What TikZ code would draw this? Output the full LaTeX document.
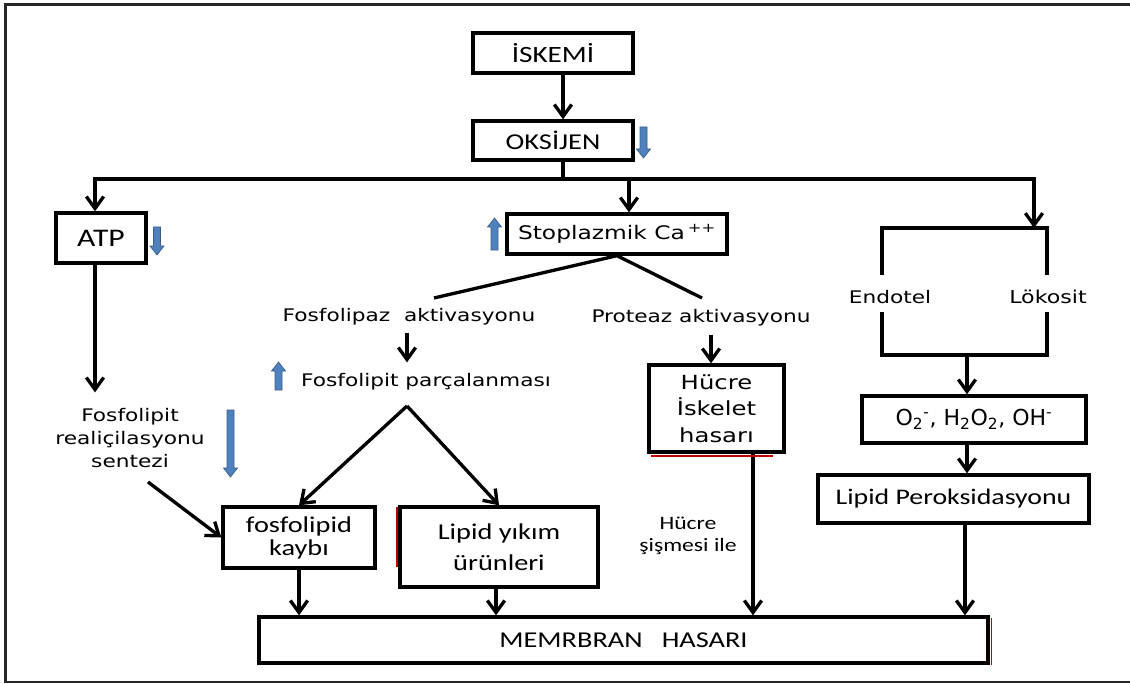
\documentclass[tikz,border=0pt]{standalone}
\usepackage{fontspec}
\setmainfont{Carlito}[FakeStretch=1.25]
\newfontfamily\dv{DejaVu Sans}[FakeStretch=1.25]
\newfontfamily\dvn{DejaVu Sans}
\usetikzlibrary{arrows.meta,calc}
\definecolor{blockblue}{HTML}{4F81BD}
\definecolor{blockedge}{HTML}{385D8A}
\definecolor{markred}{HTML}{C00000}

\newcommand\fsz[2]{\fontsize{#1}{#2}\selectfont}
% blue block arrows: x, y of tail, y of tip
\newcommand\blockdown[3]{%
  \path[fill=blockblue, draw=blockedge, line width=0.5pt]
    (#1-3.5,#2) -- (#1+3.5,#2) -- (#1+3.5,#3-9) -- (#1+7,#3-9) -- (#1,#3)
    -- (#1-7,#3-9) -- (#1-3.5,#3-9) -- cycle;}
\newcommand\blockup[3]{%
  \path[fill=blockblue, draw=blockedge, line width=0.5pt]
    (#1-3.5,#2) -- (#1+3.5,#2) -- (#1+3.5,#3+9) -- (#1+7,#3+9) -- (#1,#3)
    -- (#1-7,#3+9) -- (#1-3.5,#3+9) -- cycle;}

\tikzset{
  box/.style={draw, line width=2.5pt, inner sep=0pt, align=center},
  lbl/.style={inner sep=0pt, align=center},
  ln/.style={line width=2.5pt},
  arr/.style={line width=2.5pt, -{Straight Barb[length=9pt,width=13pt]}},
  redmark/.style={draw=markred, line width=1.3pt},
}

\begin{document}
\begin{tikzpicture}[x=0.75pt,y=-0.75pt]
\useasboundingbox (0,0) rectangle (1130,684);
% outer frame
\draw[line width=2pt, black!85] (1130,4.5) -- (5.5,4.5) -- (5.5,682) -- (1130,682);

% top chain
\node[box, minimum width=120pt, minimum height=30pt, font=\fsz{17.5}{20}] (iskemi) at (553,53) {İSKEMİ};
\node[box, minimum width=120pt, minimum height=29.25pt, font=\fsz{17}{20}] (oksijen) at (553,140.5) {OKSİJEN};
\blockdown{643.5}{127}{158}

\coordinate (stem) at (563,179);
\coordinate (busL) at (95,179);
\coordinate (busM) at (629,179);
\coordinate (busR) at (1034,179);
\draw[arr] (iskemi.south -| stem) -- (oksijen.north -| stem);
\draw[ln] (oksijen.south -| stem) -- (stem);

% second row
\node[box, minimum width=67.5pt, minimum height=37.5pt, font=\fsz{19}{22}] (atp) at (101,238) {ATP};
\blockdown{157}{227}{255}
\node[box, minimum width=165pt, minimum height=30pt, font=\dv\fsz{14}{17}] (stoplazmik) at (617,234) {Stoplazmik Ca\,\textsuperscript{++}};
\blockup{494.5}{250}{218}

\coordinate (tl) at (882,228);
\coordinate (tr) at (1047,228);
\coordinate (bl) at (882,355);
\coordinate (br) at (1047,355);

\draw[arr] (stem) -- (busL) -- (atp.north -| busL);
\draw[arr] (stem) -- (busR) -- (tl -| busR);
\draw[arr] (busM) -- (stoplazmik.north -| busM);

% calcium branch
\node[lbl, font=\dv\fsz{13}{16}] (fosfolipaz) at (409,317) {Fosfolipaz\ \ aktivasyonu};
\node[lbl, font=\dv\fsz{13}{16}] (proteaz) at (701,318) {Proteaz aktivasyonu};
\coordinate (fa) at (434,298);
\coordinate (pa) at (702,298);
\draw[ln] (fa) -- (stoplazmik.south) -- (pa);

\coordinate (apex) at (407,406);
\node[lbl, font=\dv\fsz{13}{16}] (parcalanma) at (426,382) {Fosfolipit parçalanması};
\blockup{278.5}{390}{362}
\draw[arr] ($(fosfolipaz.south -| apex)+(0,7)$) -- ($(parcalanma.north -| apex)+(0,-11)$);

\node[box, minimum width=101.25pt, minimum height=65.25pt, font=\dv\fsz{14.6}{20}] (hucre) at (716.5,408.5) {Hücre\\İskelet\\hasarı};
\coordinate (px) at (711,0);
\draw[arr] ($(proteaz.south -| px)+(0,8)$) -- (hucre.north -| px);

% ATP branch
\node[lbl, font=\dv\fsz{13}{17}] (realic) at (130,438) {Fosfolipit\\realiçilasyonu\\sentezi};
\blockdown{230.5}{410}{477}
\draw[arr] (atp.south -| busL) -- ($(realic.north -| busL)+(0,-16)$);

\node[box, minimum width=114pt, minimum height=45.75pt, font=\fsz{17}{17.25}] (fosfolipid) at (299,537.5) {fosfolipid\\kaybı};
\node[box, minimum width=148.5pt, minimum height=60pt, font=\fsz{17}{23}] (lipidyikim) at (499,547) {Lipid yıkım\\ürünleri};
\coordinate (s1) at (148,482);
\draw[arr] (s1) -- (fosfolipid.west);
\draw[arr] (apex) -- (fosfolipid.north);
\draw[arr] (apex) -- (lipidyikim.north);

\node[lbl, font=\fsz{14.2}{16.5}] (sisme) at (688,536) {Hücre\\şişmesi ile};

% endothelium / leukocyte branch
\node[lbl, font=\dv\fsz{13}{16}] (endotel) at (890,297) {Endotel};
\node[lbl, font=\dv\fsz{13.3}{16}] (lokosit) at (1048,297) {Lökosit};
\coordinate (e1) at (882,275);
\coordinate (e2) at (882,312);
\coordinate (l1) at (1047,275);
\coordinate (l2) at (1047,312);
\draw[ln] (e1) -- (tl) -- (tr) -- (l1);
\draw[ln] (e2) -- (bl) -- (br) -- (l2);

\node[box, minimum width=168pt, minimum height=35.25pt, font=\dvn\fsz{16.5}{19}] (radikal) at (974,419.5)
  {O\textsubscript{2}\textsuperscript{-}, H\textsubscript{2}O\textsubscript{2}, OH\textsuperscript{-}};
\node[box, minimum width=203.25pt, minimum height=36pt, font=\fsz{16.7}{20}] (perok) at (953.5,499) {Lipid Peroksidasyonu};
\coordinate (ox) at (967,0);
\coordinate (qx) at (965,0);
\draw[arr] (bl -| ox) -- (radikal.north -| ox);
\draw[arr] (radikal.south -| ox) -- (perok.north -| ox);

% membrane damage
\node[box, minimum width=546.75pt, minimum height=34.5pt, font=\fsz{17}{20}] (membran) at (623.5,640) {MEMRBRAN\ \ \ HASARI};
\coordinate (hx) at (753,0);
\coordinate (lx) at (496,0);
\draw[arr] (fosfolipid.south) -- (membran.north -| fosfolipid.south);
\draw[arr] (lipidyikim.south -| lx) -- (membran.north -| lx);
\draw[arr] (hucre.south -| hx) -- (membran.north -| hx);
\draw[arr] (perok.south -| qx) -- (membran.north -| qx);

% red edge marks
\draw[redmark] ($(hucre.south west)+(4,2.5)$) -- ($(hucre.south east)+(-13,2.5)$);
\draw[redmark] ($(lipidyikim.north west)+(-1.5,2)$) -- ($(lipidyikim.west)+(-1.5,20)$);
\draw[redmark] ($(membran.north east)+(1.8,3)$) -- ($(membran.south east)+(1.8,0)$);
\end{tikzpicture}
\end{document}
